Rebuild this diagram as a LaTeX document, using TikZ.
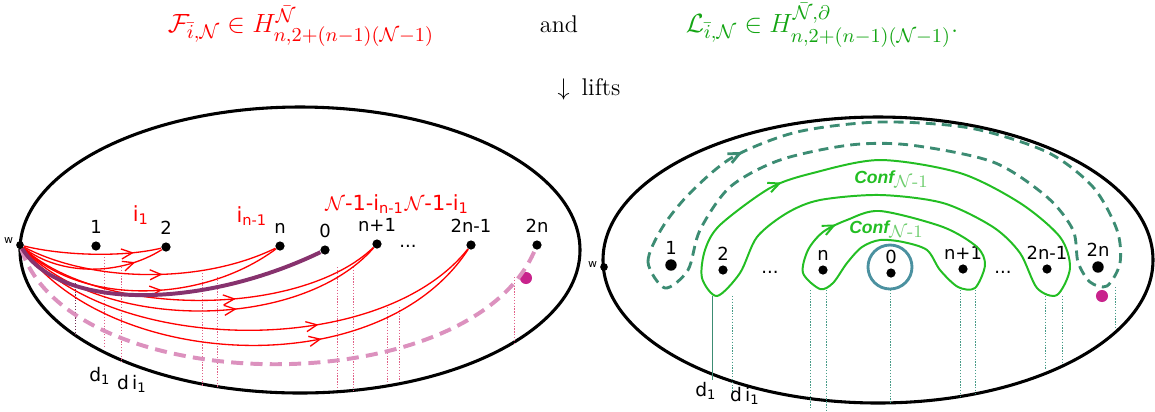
\documentclass[tikz,border=0pt]{standalone}
\usepackage{amsmath, amssymb}
\usepackage{fontspec}
\setsansfont{DejaVu Sans}
\newfontfamily\conffont{Liberation Sans}
\usetikzlibrary{arrows.meta, positioning, decorations.markings}
\definecolor{liftred}{RGB}{255,0,0}
\definecolor{titlegreen}{RGB}{20,165,20}
\definecolor{loopgreen}{RGB}{35,190,35}
\definecolor{conflight}{RGB}{110,205,110}
\definecolor{loopteal}{RGB}{60,140,115}
\definecolor{ringteal}{RGB}{75,145,160}
\definecolor{arcpurple}{RGB}{135,50,110}
\definecolor{arcpink}{RGB}{220,145,190}
\definecolor{spotmagenta}{RGB}{200,35,140}
\definecolor{droppink}{RGB}{225,95,135}
\definecolor{dropdark}{RGB}{110,40,80}
\definecolor{dropteal}{RGB}{70,155,135}
\tikzset{
  rim/.style={draw=black, line width=1.4pt},
  puncture/.style={circle, fill=black, inner sep=0pt, minimum size=4.2pt},
  ptlabel/.style={font=\sffamily\fontsize{8.2}{9}\selectfont,
    text height=6pt, text depth=0pt, inner sep=0.5pt},
  wlabel/.style={font=\sffamily\fontsize{5}{6}\selectfont, inner sep=1pt},
  redlbl/.style={font=\sffamily\fontsize{9.5}{11}\selectfont, text=liftred,
    inner sep=0pt},
  dlabel/.style={font=\sffamily\fontsize{8.5}{10}\selectfont, inner sep=0pt},
  conflbl/.style={font=\fontsize{8}{9}\selectfont, text=loopgreen, inner sep=0pt},
  titlelbl/.style={font=\fontsize{12.3}{14}\selectfont, anchor=base},
  midarr/.style={postaction={decorate}, decoration={markings,
    mark=at position #1 with {\arrow{Straight Barb[length=5pt,width=4.6pt]}}}},
  liftarc/.style={draw=liftred, line width=0.6pt},
  zeroarc/.style={draw=arcpurple, line width=1.8pt},
  twonarc/.style={draw=arcpink, line width=1.8pt, dash pattern=on 5.5pt off 3.3pt},
  confloop/.style={draw=loopgreen, line width=0.9pt},
  outerloop/.style={draw=loopteal, line width=1.3pt, dash pattern=on 4.5pt off 2.8pt},
  ring/.style={draw=ringteal, line width=1.3pt},
  spot/.style={circle, fill=spotmagenta, inner sep=0pt, minimum size=5.5pt},
  droppk/.style={draw=droppink, line width=0.4pt, dash pattern=on 0.6pt off 0.7pt},
  droptl/.style={draw=dropteal, line width=0.4pt, dash pattern=on 0.6pt off 0.7pt},
}

\begin{document}
\begin{tikzpicture}[x=0.016cm, y=-0.016cm]
  \useasboundingbox (0,0) rectangle (1155,411);

  %% title
  \node[titlelbl, text=liftred] (titleF) at (301,32)
    {$\mathcal{F}_{\bar{i},\mathcal{N}} \in H^{\bar{\mathcal{N}}}_{n,2+(n-1)(\mathcal{N}-1)}$};
  \node[titlelbl, font=\fontsize{11}{13}\selectfont] (titleand) at (559,32) {and};
  \node[titlelbl, text=titlegreen] (titleL) at (822,32)
    {$\mathcal{L}_{\bar{i},\mathcal{N}} \in H^{\bar{\mathcal{N}},\partial}_{n,2+(n-1)(\mathcal{N}-1)}.$};
  \node[titlelbl, font=\fontsize{11}{13}\selectfont] (lifts) at (589,95)
    {$\downarrow$\enspace lifts};

  %% left disc
  \draw[rim] (300,250) ellipse [x radius=280, y radius=143];
  \node[puncture, minimum size=3.5pt] (wL) at (20,245) {};
  \node[wlabel, left=0pt of wL, yshift=2pt] (wL-t) {w};
  \foreach \nm/\x/\y/\txt in {p1/96/246/1, p2/166/247/2, pn/280/246/n,
      p0/325/250/0, pn1/377/244/n+1, p2n1/471/245/2n-1, p2n/537/245/2n}
  {
    \node[puncture] (\nm) at (\x,\y) {};
    \node[ptlabel, above=2.5pt of \nm] (\nm-t) {\txt};
  }
  \node[ptlabel] (dotsL) at (408,241) {...};
  \node[spot] (spotL) at (526,278) {};

  % drop lines
  \draw[droppk, draw=dropdark] (75,283) -- (75,335);
  \foreach \x/\a/\b in {104/257/347, 121/267/362, 202/273/387, 217/277/388,
      337/267/387, 353/267/390, 387/307/382, 399/307/380, 514/277/343}
    \draw[droppk] (\x,\a) -- (\x,\b);

  % lifted arcs
  \draw[twonarc] (wL) .. controls (70,400) and (470,405) .. (p2n);
  \draw[liftarc, midarr=0.8] (wL) .. controls (60,255) and (120,258) .. (p2);
  \draw[liftarc, midarr=0.8] (wL) .. controls (60,276) and (120,276) .. (p2);
  \draw[liftarc, midarr=0.55] (wL) .. controls (90,282) and (200,285) .. (pn);
  \draw[liftarc, midarr=0.55] (wL) .. controls (80,305) and (200,305) .. (pn);
  \draw[liftarc, midarr=0.6] (wL) .. controls (100,318) and (300,318) .. (pn1);
  \draw[liftarc, midarr=0.6] (wL) .. controls (100,332) and (300,332) .. (pn1);
  \draw[liftarc, midarr=0.65] (wL) .. controls (110,355) and (380,360) .. (p2n1);
  \draw[liftarc, midarr=0.65] (wL) .. controls (110,370) and (380,385) .. (p2n1);
  \draw[zeroarc] (wL) .. controls (60,310) and (200,310) .. (p0);

  \node[redlbl] (iA) at (141,215) {i\textsubscript{1}};
  \node[redlbl] (iB) at (252,216) {i\textsubscript{n-1}};
  \node[redlbl, anchor=west] (cA) at (325,204) {$\mathcal{N}$-1-i\textsubscript{n-1}};
  \node[redlbl, right=0pt of cA] (cB) {$\mathcal{N}$-1-i\textsubscript{1}};

  \node[dlabel] (dL1) at (100,376) {d\textsubscript{1}};
  \node[dlabel] (dL2) at (132,384) {d\,i\textsubscript{1}};

  %% right disc
  \draw[rim] (878,260) ellipse [x radius=275, y radius=143];
  \node[puncture, minimum size=3.5pt] (wR) at (604,267) {};
  \node[wlabel, left=0pt of wR, yshift=1pt] (wR-t) {w};
  \foreach \nm/\x/\y/\txt/\sz in {q1/671/265/1/5.2pt, q2/723/270/2/4.2pt,
      qn/823/270/n/4.2pt, q0/891/273/0/4.2pt, qn1/963/269/n+1/4.2pt,
      q2n1/1047/269/2n-1/4.2pt, q2n/1098/267/2n/5.2pt}
  {
    \node[puncture, minimum size=\sz] (\nm) at (\x,\y) {};
    \node[ptlabel, above=1.2pt of \nm] (\nm-t) {\txt};
  }
  \node[ptlabel] (dotsR1) at (770,267) {...};
  \node[ptlabel] (dotsR2) at (1003,267) {...};
  \node[spot] (spotR) at (1102,296) {};
  \draw[ring] (890,267) circle [radius=22];

  % drop lines
  \draw[draw=loopteal, line width=0.4pt] (712,296) -- (712,380);
  \foreach \x/\a/\b in {732/296/395, 810/290/408, 826/290/410, 890/290/404,
      960/290/398, 975/290/395, 1045/296/370, 1062/296/362, 1115/287/328}
    \draw[droptl] (\x,\a) -- (\x,\b);

  % loops
  \draw[outerloop, midarr=0.12] plot[smooth cycle] coordinates {
    (665,288) (648,262) (662,228) (690,193) (733,157) (797,132) (880,122)
    (970,128) (1047,152) (1093,187) (1117,230) (1120,263) (1107,286)
    (1090,282) (1078,262) (1073,230) (1047,197) (993,162) (910,145)
    (850,145) (780,160) (730,187) (700,230) (688,270)};
  \draw[confloop, midarr=0.14] plot[smooth cycle] coordinates {
    (717,296) (702,278) (705,250) (720,225) (770,188) (813,173) (880,160)
    (960,173) (1020,203) (1060,237) (1070,268) (1057,295) (1037,288)
    (1020,253) (993,227) (943,203) (880,195) (820,200) (787,213)
    (757,237) (740,273)};
  \draw[confloop, midarr=0.13] plot[smooth cycle] coordinates {
    (820,289) (803,273) (808,250) (823,232) (847,220) (880,211) (943,227)
    (977,247) (985,265) (975,288) (958,287) (940,270) (927,250) (903,242)
    (880,240) (862,247) (847,263) (833,283)};

  \node[conflbl] (confOut) at (891,179)
    {{\conffont\bfseries\itshape Conf}\raisebox{-1.5pt}{\color{conflight}$\mathcal{N}$-1}};
  \node[conflbl] (confIn) at (886,229)
    {{\conffont\bfseries\itshape Conf}\raisebox{-1.5pt}{\color{conflight}$\mathcal{N}$-1}};

  \node[dlabel] (dR1) at (706,391) {d\textsubscript{1}};
  \node[dlabel] (dR2) at (745,396) {d\,i\textsubscript{1}};
\end{tikzpicture}
\end{document}
